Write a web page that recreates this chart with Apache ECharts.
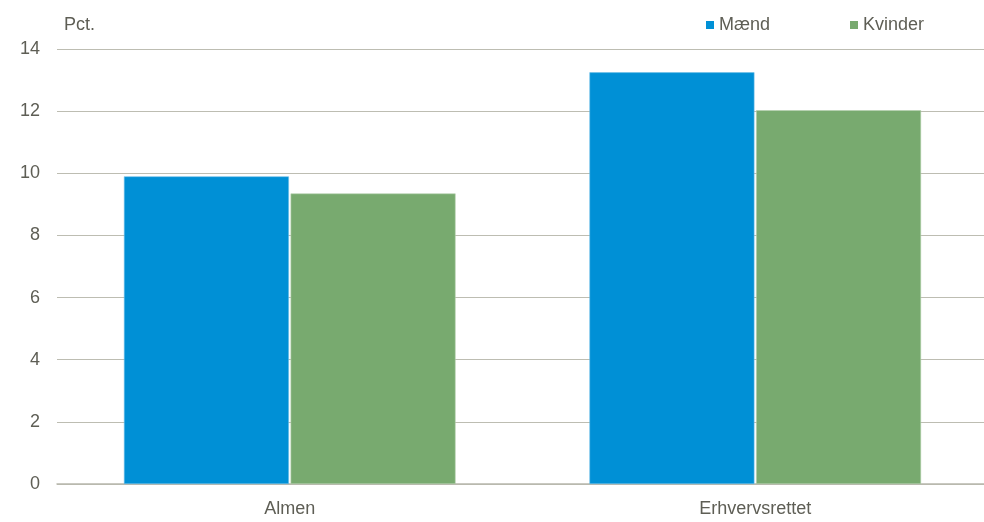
<!DOCTYPE html>
<html><head><meta charset="utf-8">
<script src="https://cdn.jsdelivr.net/npm/echarts@6/dist/echarts.min.js"></script>
<style>html,body{margin:0;padding:0;background:#fff;overflow:hidden;width:984px;height:522px}#c{width:988px;height:522px}</style>
</head><body><div id="c"></div>
<script>
const categories = ['Almen', 'Erhvervsrettet'];
const maend = [9.9, 13.25];
const kvinder = [9.35, 12.03];
const yTicks = [0, 2, 4, 6, 8, 10, 12, 14];
const seriesNames = ['Mænd', 'Kvinder'];

const font = "'Liberation Sans Narrow', 'Arial Narrow', 'Liberation Sans', sans-serif";
const txt = '#5e5e55';
const chart = echarts.init(document.getElementById('c'));
chart.setOption({
  animation: false,
  textStyle: {fontFamily: font},
  grid: {left: 57, right: 0, top: 49, bottom: 38, containLabel: false},
  legend: {
    data: seriesNames, top: 11, left: 701, itemWidth: 8, itemHeight: 8, itemGap: 80,
    icon: 'rect',
    itemStyle: {borderWidth: 0},
    textStyle: {fontFamily: font, fontSize: 18, color: txt, padding: [0, 0, 0, 0]}
  },
  graphic: [{type: 'text', left: 64, top: 16, style: {text: 'Pct.', font: '18px ' + font, fill: txt}}],
  xAxis: {
    type: 'category', data: categories,
    axisTick: {show: false},
    axisLine: {lineStyle: {color: '#b8b8ad', width: 1.5}},
    axisLabel: {fontFamily: font, fontSize: 18, color: txt, margin: 16}
  },
  yAxis: {
    type: 'value', min: 0, max: 14, interval: 2,
    axisLabel: {fontFamily: font, fontSize: 18, color: txt, margin: 17,
      formatter: v => yTicks.includes(v) ? String(v) : ''},
    splitLine: {lineStyle: {color: '#bdbdb2', width: 1.2}},
    axisLine: {show: false}, axisTick: {show: false}
  },
  series: [
    {name: seriesNames[0], type: 'bar', data: maend, barWidth: 165, barGap: '1%',
     itemStyle: {color: '#0090d6', borderColor: '#6ec0ea', borderWidth: 0.6}},
    {name: seriesNames[1], type: 'bar', data: kvinder, barWidth: 165,
     itemStyle: {color: '#78aa6f', borderColor: '#b5d0ae', borderWidth: 0.6}}
  ]
});
</script></body></html>
